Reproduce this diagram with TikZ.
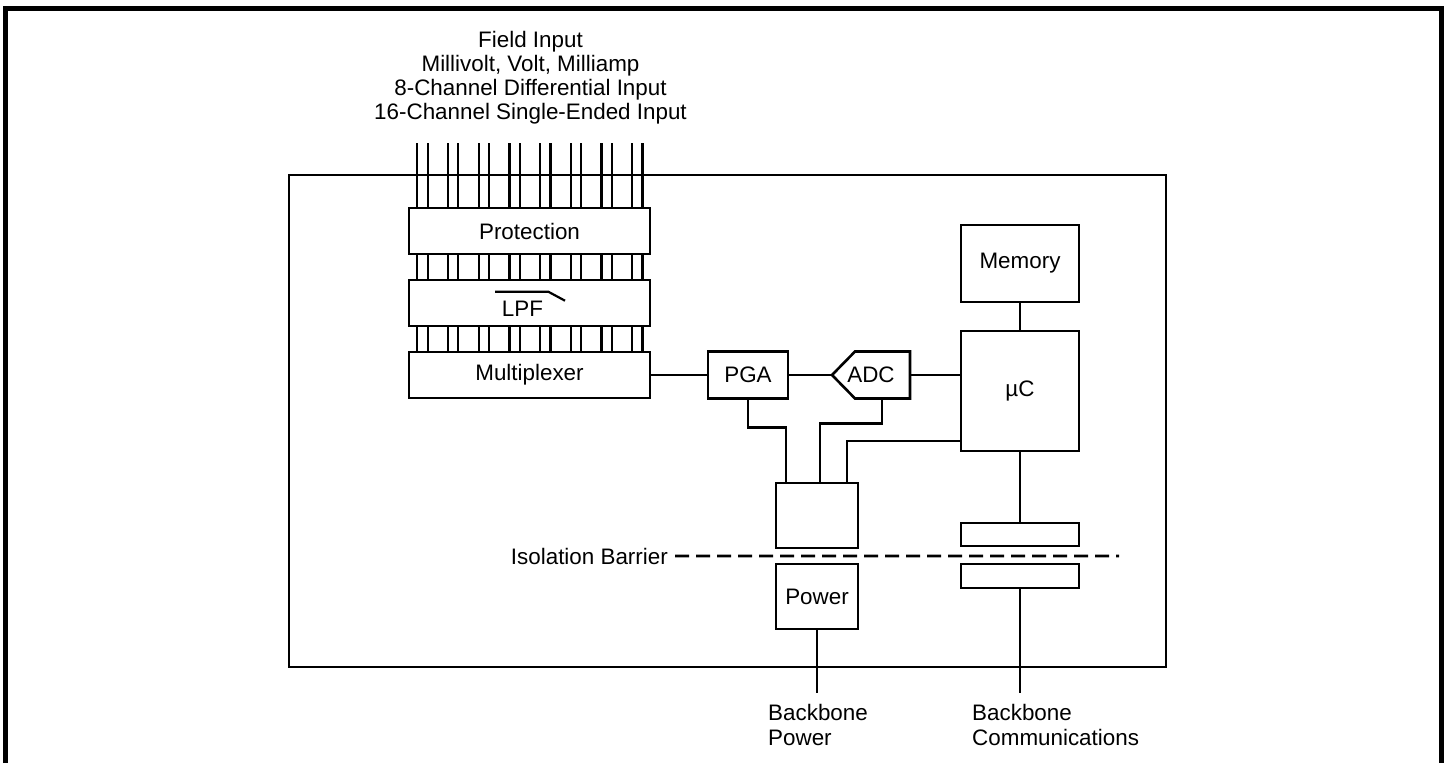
\documentclass[tikz,border=0pt]{standalone}
\usepackage{fontspec}
\setmainfont{Liberation Sans}
\begin{document}
\begin{tikzpicture}[x=1pt,y=-1pt,
    font=\fontsize{22.4}{24}\selectfont,
    box/.style={draw, line width=2.6pt, inner sep=0pt, outer sep=0pt},
    wire/.style={line width=2.2pt},
    barrier/.style={line width=2.8pt, dash pattern=on 14pt off 7pt}]
    \useasboundingbox (0,0) rectangle (1447,763);
    \draw[line width=5pt] (5.5,763) -- (5.5,8.5) -- (1441.5,8.5) -- (1441.5,763);
    \draw[line width=2.4pt] (289,175) rectangle (1166,667);

    \node[inner sep=0pt, anchor=north, align=center] (field) at (530.5,31)
        {Field Input\\Millivolt, Volt, Milliamp\\8-Channel Differential Input\\16-Channel Single-Ended Input};

    \node[box, minimum width=241, minimum height=46] (prot) at (529.5,231) {Protection};
    \node[box, minimum width=241, minimum height=46] (lpf) at (529.5,303) {};
    \node[box, minimum width=241, minimum height=46] (mux) at (529.5,375) {Multiplexer};
    \node[inner sep=0pt] (lpftxt) at (522.5,308.5) {LPF};
    \draw[wire] ([shift={(-27.5,-16.8)}]lpftxt.center) -- ++(53.3,0) -- ++(16.7,9);

    \foreach \i in {0,...,7}
        \foreach \d in {0,10.3}
        {
            \pgfmathsetmacro\off{8.3+30.7*\i+\d}
            \draw[wire] ([xshift=\off]prot.north west) -- ++(0,-65);
            \draw[wire] ([xshift=\off]prot.south west) -- ([xshift=\off]lpf.north west);
            \draw[wire] ([xshift=\off]lpf.south west) -- ([xshift=\off]mux.north west);
        }

    \node[box, minimum width=80, minimum height=47] (pga) at (748,375) {PGA};
    \node[box, draw=none, minimum width=78, minimum height=47] (adc) at (871,375) {ADC};
    \draw[line width=2.6pt] (adc.west) -- ([xshift=23]adc.north west) -- (adc.north east)
        -- (adc.south east) -- ([xshift=23]adc.south west) -- cycle;
    \node[box, minimum width=118, minimum height=77] (mem) at (1020,263.5) {Memory};
    \node[box, minimum width=118, minimum height=120] (uc) at (1020,391) {µC};
    \node[box, minimum width=82, minimum height=65] (conv) at (817,515.5) {};
    \node[box, minimum width=82, minimum height=65] (pwr) at (817,596.5) {Power};
    \node[box, minimum width=118, minimum height=23] (commA) at (1020,534.5) {};
    \node[box, minimum width=118, minimum height=24] (commB) at (1020,576) {};

    \draw[wire] (mux.east) -- (pga.west);
    \draw[wire] (pga.east) -- (adc.west);
    \draw[wire] (adc.east) -- (uc.west |- adc.east);
    \draw[wire] (mem.south) -- (uc.north);
    \draw[wire] (pga.south) -- ++(0,29) -| ([xshift=10]conv.north west);
    \draw[wire] ([xshift=11]adc.south) -- ++(0,25) -| ([xshift=44]conv.north west);
    \draw[wire] ([yshift=10]uc.south west) -| ([xshift=71]conv.north west);
    \draw[wire] (uc.south) -- (commA.north);

    \node[inner sep=0pt, anchor=base east] (iso) at (668,564) {Isolation Barrier};
    \coordinate (isoend) at (1119,556);
    \draw[barrier] ([xshift=7]iso.east) -- (isoend);

    \coordinate (bbpwr) at (817,693);
    \coordinate (bbcom) at (1020,693);
    \draw[wire] (pwr.south) -- (bbpwr);
    \draw[wire] (commB.south) -- (bbcom);
    \node[inner sep=0pt, anchor=north west, align=left, font=\fontsize{22.4}{25}\selectfont] (bbpwrtxt) at (768,704) {Backbone\\Power};
    \node[inner sep=0pt, anchor=north west, align=left, font=\fontsize{22.4}{25}\selectfont] (bbcomtxt) at (972,704) {Backbone\\Communications};
\end{tikzpicture}
\end{document}
